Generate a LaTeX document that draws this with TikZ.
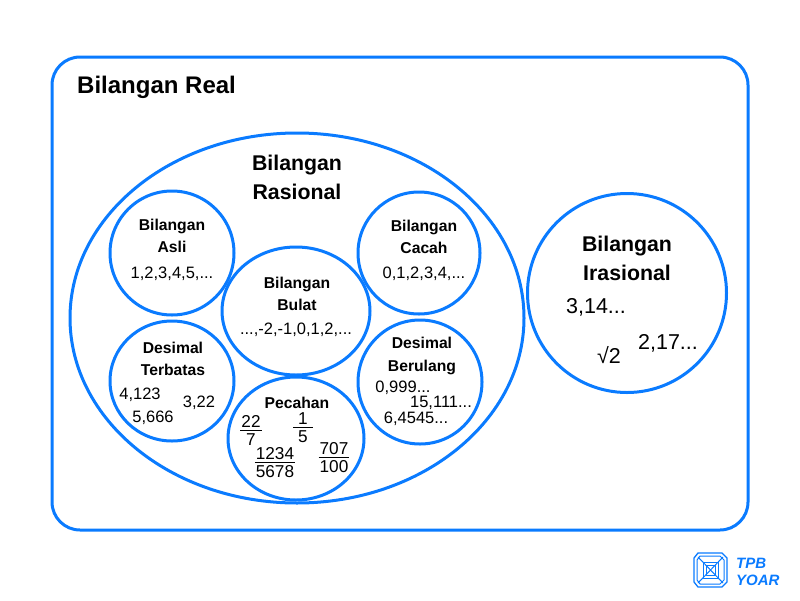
\documentclass[tikz,border=0pt]{standalone}
\usepackage{fontspec}
\setmainfont{Liberation Sans}
\usetikzlibrary{shapes.geometric}
\definecolor{setblue}{HTML}{0A7BFF}
\setlength{\arrayrulewidth}{0.8pt}
\newcommand{\frc}[2]{\begin{tabular}{@{\hspace{1pt}}c@{\hspace{1pt}}}#1\\[-2.4pt]\hline\rule{0pt}{14.5pt}#2\end{tabular}}
\tikzset{
  setshape/.style={draw=setblue,line width=3pt,ellipse,inner sep=0pt},
  bigtitle/.style={font=\fontsize{21.3}{29}\selectfont\bfseries,align=center,inner sep=0pt},
  smalltitle/.style={font=\fontsize{15.7}{22.5}\selectfont\bfseries,align=center,inner sep=0pt},
  member/.style={font=\fontsize{16.5}{18}\selectfont,inner sep=0pt},
  fracmember/.style={font=\fontsize{17.2}{18}\selectfont,inner sep=0pt},
  bigmember/.style={font=\fontsize{21.5}{24}\selectfont,inner sep=0pt},
  logoline/.style={draw=setblue,line width=1pt,line join=round},
  logotext/.style={font=\fontsize{15}{15}\selectfont\bfseries\itshape,text=setblue,anchor=west,inner sep=0pt}
}
\begin{document}
\begin{tikzpicture}[x=1pt,y=-1pt]
\useasboundingbox (0,0) rectangle (800,600);
\fill [white] (0,0) rectangle (800,600);
% big frame
\draw [setblue,line width=3pt,rounded corners=28pt] (52,57) rectangle (748,530);
\node [bigtitle,font=\fontsize{24}{29}\selectfont\bfseries,anchor=west] (realtitle) at (77,87) {Bilangan Real};
% rational set
\node [setshape,minimum width=454pt,minimum height=370pt] (rasional) at (297,318) {};
\node [bigtitle] (rasionaltitle) at (297,177) {Bilangan\\Rasional};
% small sets
\node [setshape,minimum width=124pt,minimum height=124pt] (asli) at (172,253) {};
\node [setshape,minimum width=122pt,minimum height=122pt] (cacah) at (419,253) {};
\node [setshape,minimum width=148pt,minimum height=128pt] (bulat) at (296,311) {};
\node [setshape,minimum width=124pt,minimum height=120pt] (terbatas) at (172,381) {};
\node [setshape,minimum width=124pt,minimum height=124pt] (berulang) at (420,382) {};
\node [setshape,minimum width=136pt,minimum height=123pt] (pecahan) at (296,438.5) {};
\node [smalltitle] (aslititle) at (172,236) {Bilangan\\Asli};
\node [smalltitle] (cacahtitle) at (424,237) {Bilangan\\Cacah};
\node [smalltitle] (bulattitle) at (297,294) {Bilangan\\Bulat};
\node [smalltitle] (terbatastitle) at (173,359) {Desimal\\Terbatas};
\node [smalltitle] (berulangtitle) at (422,356) {Desimal\\Berulang};
\node [smalltitle] (pecahantitle) at (297,403) {Pecahan};
\node [member] (aslinum) at (172,274) {1,2,3,4,5,...};
\node [member] (cacahnum) at (424,274) {0,1,2,3,4,...};
\node [member] (bulatnum) at (296,330) {...,-2,-1,0,1,2,...};
\node [member] (terbatasa) at (140,395) {4,123};
\node [member] (terbatasb) at (153,418) {5,666};
\node [member] (terbatasc) at (199,403) {3,22};
\node [member] (berulanga) at (403,388) {0,999...};
\node [member] (berulangb) at (441,403) {15,111...};
\node [member] (berulangc) at (416,419) {6,4545...};
% fractions
\node [fracmember] (fraca) at (251,433) {\frc{22}{7}};
\node [fracmember] (fracb) at (303,430) {\frc{\makebox[18pt]{1}}{5}};
\node [fracmember] (fracc) at (275,465) {\frc{1234}{5678}};
\node [fracmember] (fracd) at (334,460) {\frc{707}{100}};
% irrational set
\node [setshape,minimum width=199pt,minimum height=199pt] (irasional) at (627,293) {};
\node [bigtitle] (irasionaltitle) at (627,258) {Bilangan\\Irasional};
\node [bigmember] (irasa) at (596,307) {3,14...};
\node [bigmember] (irasb) at (668,343) {2,17...};
\node [bigmember] (irasc) at (609,355) {√2};
% logo
\draw [logoline,line width=1.3pt] (698,553) -- (722,553) -- (727,558) -- (727,582) -- (722,587) -- (698,587) -- (694,582) -- (694,558) -- cycle;
\draw [logoline] (700,556) -- (720,556) -- (724,560) -- (724,580) -- (720,584) -- (700,584) -- (697,580) -- (697,560) -- cycle;
\draw [logoline] (703,562) rectangle (718,578);
\draw [logoline] (706,565) rectangle (715,575);
\draw [logoline] (698,557) -- (723,583) (723,557) -- (698,583);
\node [logotext] (logotop) at (736,563) {TPB};
\node [logotext] (logobottom) at (736,580) {YOAR};
\end{tikzpicture}
\end{document}
